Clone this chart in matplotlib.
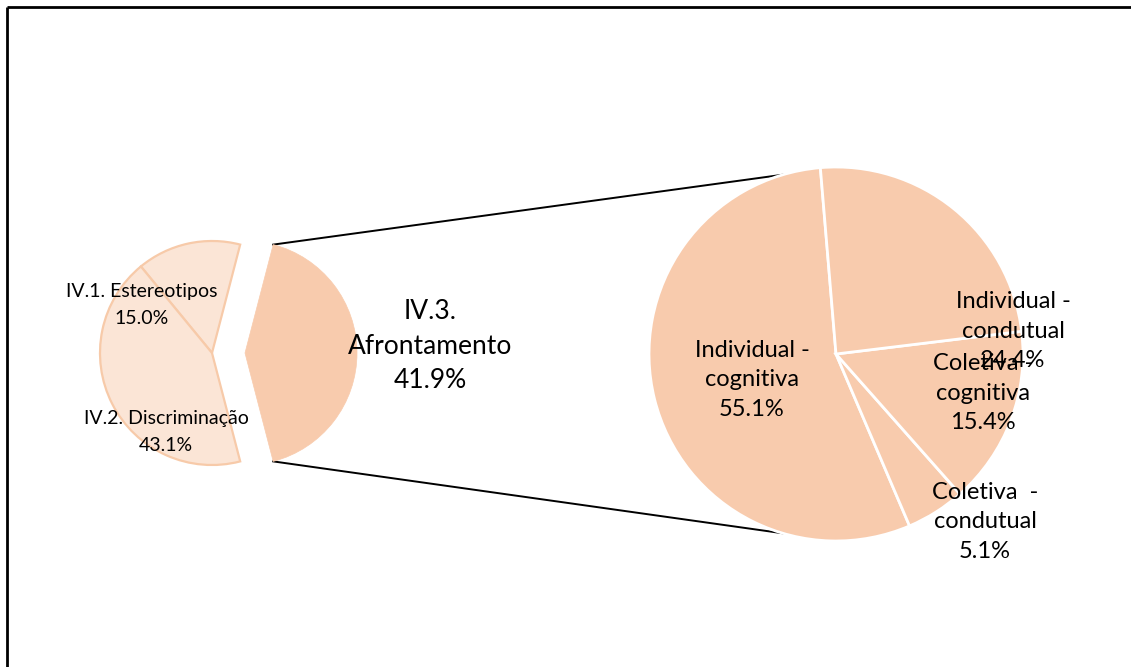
import numpy as np
import matplotlib
matplotlib.use("Agg")
import matplotlib.pyplot as plt

# ---- data ----
main_labels = ["IV.1. Estereotipos", "IV.2. Discriminação", "IV.3.\nAfrontamento"]
main_values = [15.0, 43.1, 41.9]

sub_labels = ["Individual -\ncognitiva", "Coletiva  -\ncondutual", "Coletiva -\ncognitiva", "Individual -\ncondutual"]
sub_values = [55.1, 5.1, 15.4, 24.4]

# ---- style ----
W, H = 1131, 667
light = "#FBE5D6"
mid = "#F8CBAD"
edge = "#F7CAA9"
plt.rcParams["font.family"] = ["Lato", "DejaVu Sans"]

fig = plt.figure(figsize=(W / 100, H / 100), dpi=100)
ax = fig.add_axes([0, 0, 1, 1])

def py(y):
    return H - y

# left pie
c1 = (212, py(353))
r1 = 112
expl = 33
half = 360 * main_values[-1] / sum(main_values) / 2
w1, _ = ax.pie(main_values, center=c1, radius=r1, startangle=half,
               counterclock=True, explode=[0, 0, expl],
               colors=[light, light, mid],
               wedgeprops=dict(edgecolor=edge, linewidth=1.6))
w1[2].set_edgecolor(mid)
w1[2].set_linewidth(0.5)

# right pie
c2 = (836, py(354))
r2 = 187
w2, _ = ax.pie(sub_values, center=c2, radius=r2, startangle=94.8,
               counterclock=True, colors=[mid] * 4,
               wedgeprops=dict(edgecolor="white", linewidth=2.0))

# connector lines
ex_c = (c1[0] + expl, c1[1])
for sgn in (1, -1):
    a = np.deg2rad(sgn * half)
    p1 = (ex_c[0] + r1 * np.cos(a), ex_c[1] + r1 * np.sin(a))
    b = np.deg2rad(sgn * 106.5)
    p2 = (c2[0] + r2 * np.cos(b), c2[1] + r2 * np.sin(b))
    ax.plot([p1[0], p2[0]], [p1[1], p2[1]], color="black", lw=1.4, zorder=0)

fs_small = 14
fs_big = 19
fs_sub = 17
tc = "#000000"
ax.text(142, py(305), f"{main_labels[0]}\n{main_values[0]:.1f}%", ha="center", va="center",
        fontsize=fs_small, color=tc, linespacing=1.7)
ax.text(166, py(432), f"{main_labels[1]}\n{main_values[1]:.1f}%", ha="center", va="center",
        fontsize=fs_small, color=tc, linespacing=1.7)
ax.text(430, py(346), f"{main_labels[2]}\n{main_values[2]:.1f}%", ha="center", va="center",
        fontsize=fs_big, color=tc, linespacing=1.46)

sub_pos = [(752, 380), (985, 522), (983, 393), (1013, 331)]
for lab, v, (x, y) in zip(sub_labels, sub_values, sub_pos):
    ax.text(x, py(y), f"{lab}\n{v:.1f}%", ha="center", va="center",
            fontsize=fs_sub, color=tc, linespacing=1.49)

# frame lines
ax.plot([7, W], [py(7), py(7)], color="black", lw=2.0, solid_capstyle="butt")
ax.plot([7, 7], [py(7), 0], color="black", lw=2.0, solid_capstyle="butt")

ax.set_xlim(0, W)
ax.set_ylim(0, H)
ax.set_aspect("equal")
ax.axis("off")
fig.savefig("out.png", dpi=100)
